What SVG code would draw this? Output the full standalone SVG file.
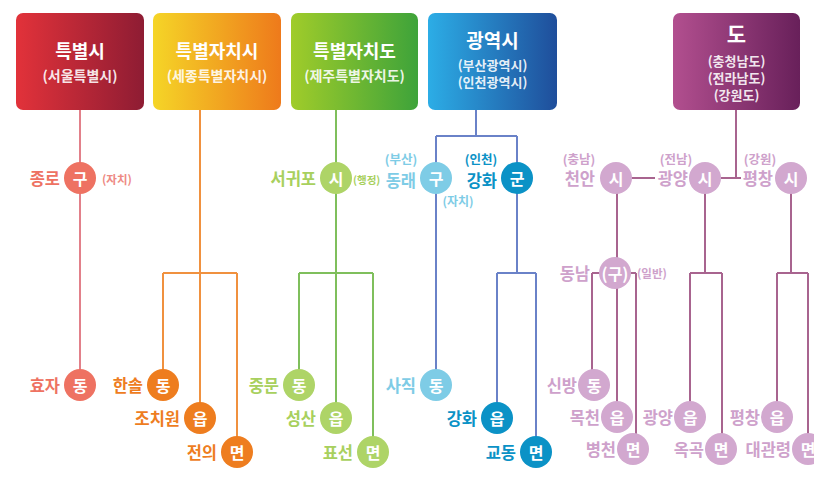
<svg xmlns="http://www.w3.org/2000/svg" width="814" height="485" viewBox="0 0 814 485">
<defs>
<linearGradient id="g1" x1="0" y1="0" x2="1" y2="0"><stop offset="0" stop-color="#e2323a"/><stop offset="1" stop-color="#8e1c33"/></linearGradient>
<linearGradient id="g2" x1="0" y1="0" x2="1" y2="0"><stop offset="0" stop-color="#f5d527"/><stop offset="1" stop-color="#ee7a1b"/></linearGradient>
<linearGradient id="g3" x1="0" y1="0" x2="1" y2="0"><stop offset="0" stop-color="#a0cc2a"/><stop offset="1" stop-color="#3ea33a"/></linearGradient>
<linearGradient id="g4" x1="0" y1="0" x2="1" y2="0"><stop offset="0" stop-color="#2cade6"/><stop offset="1" stop-color="#1f4e9b"/></linearGradient>
<linearGradient id="g5" x1="0" y1="0" x2="1" y2="0"><stop offset="0" stop-color="#b24f8f"/><stop offset="1" stop-color="#68205a"/></linearGradient>
</defs>
<style>
text{font-family:"Noto Sans CJK KR","Noto Sans",sans-serif;dominant-baseline:central;font-weight:700}
.bt{fill:#fff;font-size:18px;text-anchor:middle}
.bs{fill:#fff;fill-opacity:.9;font-size:14px;text-anchor:middle}
.bm{fill:#fff;fill-opacity:.9;font-size:13px;text-anchor:middle}
.ct{fill:#fff;font-size:16px;text-anchor:middle}
.lb{font-size:16.5px;text-anchor:end}
.sm{font-size:11.5px}
.c1{fill:#ee7262}.c2{fill:#ee7d1f}.c3{fill:#aed467}.c4{fill:#7ecce6}.c5{fill:#0b92c6}.c6{fill:#d2a8cf}
.t1{fill:#ee7262}.t2{fill:#ee7d1f}.t3{fill:#a8d05e}.t4{fill:#7ecce6}.t5{fill:#0b92c6}.t6{fill:#cea1cb}
.k{fill:none;stroke-width:2}
.k1{stroke:#e2808a}.k2{stroke:#f0913f}.k3{stroke:#7fbf5c}.k4{stroke:#6a82c8}.k5{stroke:#a8648f}
</style>

<g id="connectors">
<path class="k k1" d="M80 110V385"/>
<path class="k k2" d="M200 110V418M163 273H237M163 273V385M237 273V452"/>
<path class="k k3" d="M336 110V418M299 273H373M299 273V385M373 273V452"/>
<path class="k k4" d="M476 110V136M436 136H517M436 136V385M517 136V273M497 273H536M497 273V418M536 273V452"/>
<path class="k k5" d="M736 110V178M630 178H655M721 178H741M617 178V417M592 273H636M592 273V385M636 273V449M705 178V273M690 273H722M690 273V417M722 273V449M791 178V273M777 273H808M777 273V417M808 273V449"/>
</g>

<g id="box-teukbyeolsi">
<rect x="16" y="13" width="128" height="97" rx="7" fill="url(#g1)"/>
<text class="bt" x="80" y="50">특별시</text>
<text class="bs" x="80" y="75">(서울특별시)</text>
</g>
<g id="box-teukbyeoljachisi">
<rect x="153" y="13" width="128" height="97" rx="7" fill="url(#g2)"/>
<text class="bt" x="217" y="50">특별자치시</text>
<text class="bs" x="217" y="75">(세종특별자치시)</text>
</g>
<g id="box-teukbyeoljachido">
<rect x="291" y="13" width="127" height="97" rx="7" fill="url(#g3)"/>
<text class="bt" x="354.5" y="50">특별자치도</text>
<text class="bs" x="354.5" y="75">(제주특별자치도)</text>
</g>
<g id="box-gwangyeoksi">
<rect x="428" y="13" width="129" height="97" rx="7" fill="url(#g4)"/>
<text class="bt" x="492.5" y="39" style="font-size:19px">광역시</text>
<text class="bm" x="492.5" y="64"><tspan x="492.5" y="64">(부산광역시)</tspan><tspan x="492.5" y="81">(인천광역시)</tspan></text>
</g>
<g id="box-do">
<rect x="673" y="13" width="127" height="97" rx="7" fill="url(#g5)"/>
<text class="bt" x="736.5" y="33" style="font-size:21px">도</text>
<text class="bm" x="736.5" y="60"><tspan x="736.5" y="59.5">(충청남도)</tspan><tspan x="736.5" y="76.5">(전라남도)</tspan><tspan x="736.5" y="93.5">(강원도)</tspan></text>
</g>

<g id="n-jongno-gu">
<circle class="c1" cx="80" cy="178" r="16"/><text class="ct" x="80" y="178">구</text>
<text class="lb t1" x="60" y="178">종로</text>
<text class="sm t1" x="102" y="179" style="fill:#ee8a84">(자치)</text>
</g>
<g id="n-hyoja-dong">
<circle class="c1" cx="80" cy="385" r="16"/><text class="ct" x="80" y="385">동</text>
<text class="lb t1" x="60" y="385">효자</text>
</g>

<g id="n-hansol-dong">
<circle class="c2" cx="163" cy="385" r="16"/><text class="ct" x="163" y="385">동</text>
<text class="lb t2" x="143" y="385">한솔</text>
</g>
<g id="n-jochiwon-eup">
<circle class="c2" cx="200" cy="418" r="16"/><text class="ct" x="200" y="418">읍</text>
<text class="lb t2" x="180" y="418">조치원</text>
</g>
<g id="n-jeonui-myeon">
<circle class="c2" cx="237" cy="452" r="16"/><text class="ct" x="237" y="452">면</text>
<text class="lb t2" x="217" y="452">전의</text>
</g>

<g id="n-seogwipo-si">
<circle class="c3" cx="336" cy="178" r="16"/><text class="ct" x="336" y="178">시</text>
<text class="lb t3" x="316" y="178">서귀포</text>
<text class="sm t3" x="353" y="179" style="font-size:10.5px">(행정)</text>
</g>
<g id="n-jungmun-dong">
<circle class="c3" cx="299" cy="385" r="16"/><text class="ct" x="299" y="385">동</text>
<text class="lb t3" x="279" y="385">중문</text>
</g>
<g id="n-seongsan-eup">
<circle class="c3" cx="336" cy="418" r="16"/><text class="ct" x="336" y="418">읍</text>
<text class="lb t3" x="316" y="418">성산</text>
</g>
<g id="n-pyoseon-myeon">
<circle class="c3" cx="373" cy="452" r="16"/><text class="ct" x="373" y="452">면</text>
<text class="lb t3" x="353" y="452">표선</text>
</g>

<g id="n-dongnae-gu">
<circle class="c4" cx="436" cy="178" r="16"/><text class="ct" x="436" y="178">구</text>
<text class="sm t4" x="401" y="158" style="text-anchor:middle;font-size:12.5px">(부산)</text>
<text class="lb t4" x="416" y="180">동래</text>
<text class="sm t4" x="458" y="200" style="text-anchor:middle;font-size:12px">(자치)</text>
</g>
<g id="n-ganghwa-gun">
<circle class="c5" cx="517" cy="178" r="16"/><text class="ct" x="517" y="178">군</text>
<text class="sm t5" x="481" y="158" style="text-anchor:middle;font-size:12.5px">(인천)</text>
<text class="lb t5" x="497" y="180">강화</text>
</g>
<g id="n-sajik-dong">
<circle class="c4" cx="436" cy="385" r="16"/><text class="ct" x="436" y="385">동</text>
<text class="lb t4" x="416" y="385">사직</text>
</g>
<g id="n-ganghwa-eup">
<circle class="c5" cx="497" cy="418" r="16"/><text class="ct" x="497" y="418">읍</text>
<text class="lb t5" x="477" y="418">강화</text>
</g>
<g id="n-gyodong-myeon">
<circle class="c5" cx="536" cy="452" r="16"/><text class="ct" x="536" y="452">면</text>
<text class="lb t5" x="516" y="452">교동</text>
</g>

<g id="n-cheonan-si">
<circle class="c6" cx="616" cy="178" r="16"/><text class="ct" x="616" y="178">시</text>
<text class="sm t6" x="579" y="158" style="text-anchor:middle;font-size:12.5px">(충남)</text>
<text class="lb t6" x="595" y="178">천안</text>
</g>
<g id="n-gwangyang-si">
<circle class="c6" cx="705" cy="178" r="16"/><text class="ct" x="705" y="178">시</text>
<text class="sm t6" x="676" y="158" style="text-anchor:middle;font-size:12.5px">(전남)</text>
<text class="lb t6" x="688" y="178">광양</text>
</g>
<g id="n-pyeongchang-gun">
<circle class="c6" cx="791" cy="178" r="16"/><text class="ct" x="791" y="178">시</text>
<text class="sm t6" x="760" y="158" style="text-anchor:middle;font-size:12.5px">(강원)</text>
<text class="lb t6" x="773" y="178">평창</text>
</g>
<g id="n-dongnam-gu">
<circle class="c6" cx="615" cy="273" r="16"/><text class="ct" x="615" y="273">(구)</text>
<text class="lb t6" x="590" y="273">동남</text>
<text class="sm t6" x="637" y="273">(일반)</text>
</g>
<g id="n-sinbang-dong">
<circle class="c6" cx="594" cy="385" r="16"/><text class="ct" x="594" y="385">동</text>
<text class="lb t6" x="577" y="385">신방</text>
</g>
<g id="n-mokcheon-eup">
<circle class="c6" cx="617" cy="417" r="16"/><text class="ct" x="617" y="417">읍</text>
<text class="lb t6" x="600" y="417">목천</text>
</g>
<g id="n-byeongcheon-myeon">
<circle class="c6" cx="633" cy="449" r="16"/><text class="ct" x="633" y="449">면</text>
<text class="lb t6" x="616" y="449">병천</text>
</g>
<g id="n-gwangyang-eup">
<circle class="c6" cx="690" cy="417" r="16"/><text class="ct" x="690" y="417">읍</text>
<text class="lb t6" x="673" y="417">광양</text>
</g>
<g id="n-okgok-myeon">
<circle class="c6" cx="721" cy="449" r="16"/><text class="ct" x="721" y="449">면</text>
<text class="lb t6" x="704" y="449">옥곡</text>
</g>
<g id="n-pyeongchang-eup">
<circle class="c6" cx="777" cy="417" r="16"/><text class="ct" x="777" y="417">읍</text>
<text class="lb t6" x="760" y="417">평창</text>
</g>
<g id="n-daegwallyeong-myeon">
<circle class="c6" cx="808" cy="449" r="16"/><text class="ct" x="808" y="449">면</text>
<text class="lb t6" x="791" y="449">대관령</text>
</g>
</svg>
